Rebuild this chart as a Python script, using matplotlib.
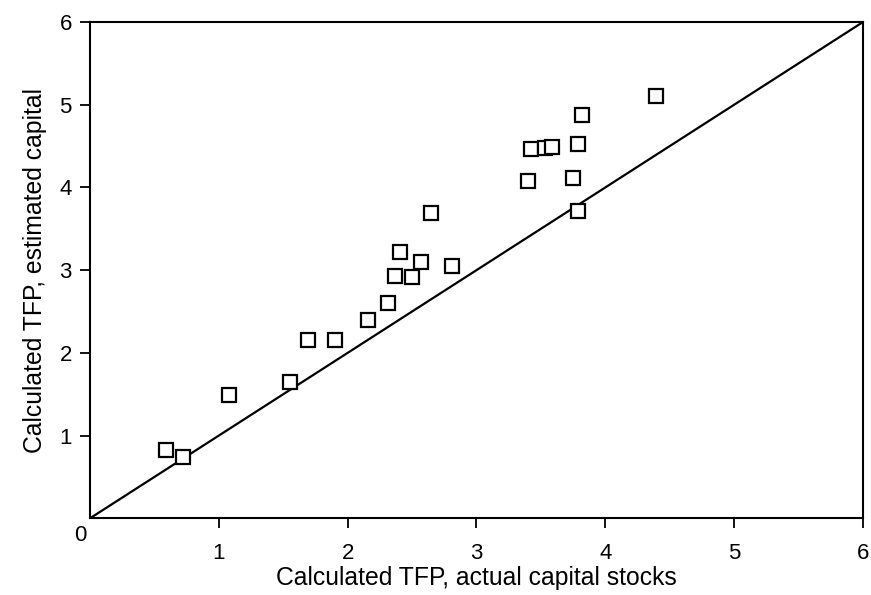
import matplotlib.pyplot as plt

plt.rcParams['font.family'] = ['Liberation Sans', 'DejaVu Sans']

# TFP with actual capital stocks (x) vs. with estimated capital (y)
tfp_actual = [0.59, 0.72, 1.08, 1.55, 1.69, 1.90, 2.16, 2.31, 2.37, 2.41, 2.50,
              2.57, 2.65, 2.81, 3.40, 3.42, 3.53, 3.59, 3.75, 3.79, 3.79, 3.82, 4.39]
tfp_estimated = [0.83, 0.74, 1.49, 1.65, 2.15, 2.15, 2.40, 2.60, 2.93, 3.22, 2.92,
                 3.10, 3.69, 3.05, 4.08, 4.46, 4.48, 4.49, 4.11, 4.52, 3.72, 4.88, 5.11]
diag = [0, 6]
ticks = [1, 2, 3, 4, 5, 6]

fig = plt.figure(figsize=(8.71, 5.95), dpi=100)
ax = fig.add_axes([0.1033, 0.1289, 0.8875, 0.8341])

ax.plot(diag, diag, color="black", lw=1.6)
ax.plot(tfp_actual, tfp_estimated, "s", ms=10.5, mfc="white", mec="black", mew=1.6,
        linestyle="none")

ax.set_xlim(0, 6)
ax.set_ylim(0, 6)
ax.set_xticks(ticks)
ax.set_yticks(ticks)
ax.tick_params(axis="x", direction="out", length=7, width=1.3, pad=10.5, labelsize=16)
ax.tick_params(axis="y", direction="out", length=7, width=1.3, pad=6, labelsize=16)
for s in ax.spines.values():
    s.set_linewidth(1.5)

ax.annotate("0", xy=(0, 0), xytext=(-10, -17), textcoords="offset pixels",
            ha="center", va="center", fontsize=16)

ax.set_xlabel("Calculated TFP, actual capital stocks", fontsize=17.8, labelpad=2)
ax.set_ylabel("Calculated TFP, estimated capital", fontsize=17.8, labelpad=9)

plt.savefig("out.png")
